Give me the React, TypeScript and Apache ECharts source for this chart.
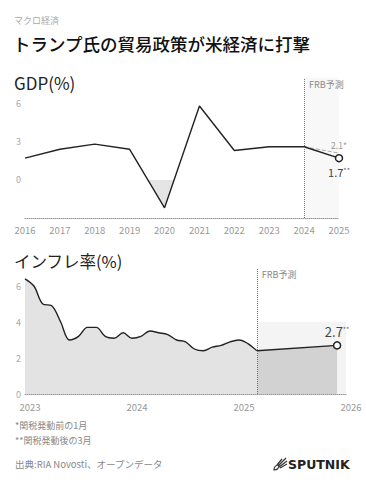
import React, { useEffect, useRef } from "react";
import * as echarts from "echarts";

// ---- GDP (annual, %) ----
const gdpYears = ["2016", "2017", "2018", "2019", "2020", "2021", "2022", "2023", "2024", "2025"];
const gdpActual = [1.7, 2.4, 2.8, 2.4, -2.2, 5.8, 2.3, 2.6, 2.6, 1.7];
const gdpPrevForecast: (number | null)[] = [null, null, null, null, null, null, null, null, 2.6, 2.1];
const gdpForecastFrom = "2024";

// ---- Inflation (monthly CPI, %) ----
const cpiYears = ["2023", "2024", "2025"];
const cpiAxisEnd = "2026-01";
const cpiActual = [
  6.4, 6.0, 5.0, 4.9, 4.0, 3.0, 3.2, 3.7, 3.7, 3.2, 3.1, 3.4,
  3.1, 3.2, 3.5, 3.4, 3.3, 3.0, 2.9, 2.5, 2.4, 2.6, 2.7, 2.9,
  3.0, 2.8, 2.4,
];
const cpiForecastFrom = "2025-03";
const cpiForecastFromValue = 2.4;
const cpiForecastTo = "2025-12";
const cpiForecastToValue = 2.7;

const FONT = "'Noto Sans CJK JP', 'Noto Sans', sans-serif";

export default function App() {
  const ref = useRef<HTMLDivElement>(null);

  useEffect(() => {
    if (!ref.current) return;
    echarts.graphic.registerShape(
      "sputnikIcon",
      echarts.graphic.extendPath(
        "M1 13 C1 10 3 8 6 8 C6 11 4 13 1 13 Z M5 9 L13 1 M6 10 L14 4 M7 11 L14 7 M4 8 L9 2",
        {}
      ) as any
    );

    const months: string[] = [];
    cpiYears.forEach((y) => {
      for (let m = 1; m <= 12; m++) months.push(`${y}-${m < 10 ? "0" + m : m}`);
    });
    months.push(cpiAxisEnd);

    const cpiActualData = months.map((_, i) => (i < cpiActual.length ? cpiActual[i] : null));
    const cpiForecastData = months.map((m) =>
      m === cpiForecastFrom ? cpiForecastFromValue : m === cpiForecastTo ? cpiForecastToValue : null
    );

    const lastG = gdpActual.length - 1;
    const gdpData = gdpActual.map((v, i) =>
      i === lastG
        ? {
            value: v,
            symbol: "circle",
            symbolSize: 7,
            itemStyle: { color: "#fff", borderColor: "#222", borderWidth: 1.5 },
            label: {
              show: true,
              position: "bottom",
              distance: 4,
              formatter: "{a|" + v + "}{b|**}",
              rich: {
                a: { fontSize: 11, color: "#444", fontFamily: FONT },
                b: { fontSize: 7, color: "#666", fontFamily: FONT, verticalAlign: "top" },
              },
            },
          }
        : v
    );
    const gdpPrevData = gdpPrevForecast.map((v, i) =>
      i === lastG && v != null
        ? {
            value: v,
            symbol: "circle",
            symbolSize: 2,
            itemStyle: { color: "rgba(0,0,0,0)", borderWidth: 0 },
            label: {
              show: true,
              position: "top",
              distance: 3,
              formatter: v + "*",
              fontSize: 8.5,
              color: "#999",
              fontFamily: FONT,
            },
          }
        : v
    );

    const cpiFIdx = months.indexOf(cpiForecastTo);
    const cpiForecastItems = cpiForecastData.map((v, i) =>
      i === cpiFIdx
        ? {
            value: v,
            symbol: "circle",
            symbolSize: 7,
            itemStyle: { color: "#fff", borderColor: "#222", borderWidth: 1.5 },
            label: {
              show: true,
              position: "top",
              distance: 3,
              formatter: "{a|" + v + "}{b|**}",
              rich: {
                a: { fontSize: 13, color: "#444", fontFamily: FONT },
                b: { fontSize: 7, color: "#666", fontFamily: FONT, verticalAlign: "top" },
              },
            },
          }
        : v
    );

    const vLine = (x: string) => ({
      silent: true,
      symbol: "none",
      lineStyle: { type: "dotted", color: "#777", width: 1 },
      label: {
        show: true,
        position: "end",
        distance: 0,
        formatter: "FRB予測",
        align: "left",
        verticalAlign: "top",
        padding: [2, 0, 0, 5],
        fontSize: 9,
        color: "#888",
        fontFamily: FONT,
      },
      data: [{ xAxis: x }],
    });

    const gMax = Math.max(...gdpActual);
    const gMin = Math.min(...gdpActual);
    const zeroOff = gMax / (gMax - gMin);

    const chart = echarts.init(ref.current, null, { renderer: "svg" });
    chart.setOption({
      animation: false,
      backgroundColor: "#fff",
      textStyle: { fontFamily: FONT },
      grid: [
        { left: 25, right: 27, top: 78, height: 140 },
        { left: 25, right: 20, top: 268, height: 126 },
      ],
      xAxis: [
        {
          gridIndex: 0,
          type: "category",
          data: gdpYears,
          boundaryGap: false,
          axisLine: { onZero: false, lineStyle: { type: "dotted", color: "#999" } },
          axisTick: { show: false },
          axisLabel: { color: "#999", fontSize: 9.5, margin: 7, interval: 0 },
        },
        {
          gridIndex: 1,
          type: "category",
          data: months,
          boundaryGap: false,
          axisLine: { onZero: false, lineStyle: { type: "dotted", color: "#999" } },
          axisTick: { show: false },
          axisLabel: {
            color: "#999",
            fontSize: 9.5,
            margin: 8,
            padding: [0, 0, 0, 10],
            interval: (_i: number, v: string) => v.endsWith("-01"),
            formatter: (v: string) => v.slice(0, 4),
          },
        },
      ],
      yAxis: [
        {
          gridIndex: 0,
          type: "value",
          min: -3,
          max: 8,
          interval: 3,
          axisLine: { show: false },
          axisTick: { show: false },
          splitLine: { show: false },
          axisLabel: { color: "#aaa", fontSize: 9, margin: 4, showMaxLabel: false, showMinLabel: false },
        },
        {
          gridIndex: 1,
          type: "value",
          min: 0,
          max: 7,
          interval: 2,
          axisLine: { show: false },
          axisTick: { show: false },
          splitLine: { show: false },
          axisLabel: { color: "#aaa", fontSize: 9, margin: 4, showMaxLabel: false },
        },
      ],
      series: [
        {
          type: "line",
          xAxisIndex: 0,
          yAxisIndex: 0,
          data: gdpPrevData,
          symbol: "none",
          showSymbol: true,
          showAllSymbol: true,
          connectNulls: true,
          lineStyle: { type: "dashed", color: "#aaa", width: 1 },
          z: 2,
        },
        {
          type: "line",
          xAxisIndex: 0,
          yAxisIndex: 0,
          data: gdpData,
          symbol: "none",
          showSymbol: true,
          showAllSymbol: true,
          lineStyle: { color: "#222", width: 1.4 },
          areaStyle: {
            origin: 0,
            color: new echarts.graphic.LinearGradient(0, 0, 0, 1, [
              { offset: 0, color: "rgba(0,0,0,0)" },
              { offset: zeroOff, color: "rgba(0,0,0,0)" },
              { offset: zeroOff + 0.001, color: "#d9d9d9" },
              { offset: 1, color: "#d9d9d9" },
            ]),
          },
          markLine: vLine(gdpForecastFrom),
          markArea: {
            silent: true,
            itemStyle: { color: "#f8f8f8" },
            data: [[{ xAxis: gdpForecastFrom }, { xAxis: gdpYears[gdpYears.length - 1] }]],
          },
          z: 3,
        },
        {
          type: "line",
          xAxisIndex: 1,
          yAxisIndex: 1,
          data: cpiActualData,
          symbol: "none",
          smooth: 0.35,
          lineStyle: { color: "#222", width: 1.4 },
          areaStyle: { color: "#e3e3e3", opacity: 1 },
          markLine: vLine(cpiForecastFrom),
          markArea: {
            silent: true,
            itemStyle: { color: "#f4f4f4" },
            data: [[{ xAxis: cpiForecastFrom, yAxis: 0 }, { xAxis: cpiAxisEnd, yAxis: 4 }]],
          },
          z: 3,
        },
        {
          type: "line",
          xAxisIndex: 1,
          yAxisIndex: 1,
          data: cpiForecastItems,
          symbol: "none",
          showSymbol: true,
          showAllSymbol: true,
          connectNulls: true,
          lineStyle: { color: "#222", width: 1.4 },
          areaStyle: { color: "#d2d2d2", opacity: 1 },
          z: 4,
        },
      ],
      graphic: [
        { type: "text", left: 14, top: 16, style: { text: "マクロ経済", fontSize: 9, fill: "#aaa", fontFamily: FONT } },
        {
          type: "text",
          left: 13,
          top: 35,
          style: { text: "トランプ氏の貿易政策が米経済に打撃", fontSize: 17.5, fontWeight: 500, fill: "#111", fontFamily: FONT },
        },
        { type: "text", left: 14, top: 74, style: { text: "GDP(%)", fontSize: 17, fill: "#222", fontFamily: FONT } },
        { type: "text", left: 14, top: 253, style: { text: "インフレ率(%)", fontSize: 16.5, fill: "#222", fontFamily: FONT } },
        { type: "text", left: 15, top: 421, style: { text: "*関税発動前の1月", fontSize: 9, fill: "#888", fontFamily: FONT } },
        { type: "text", left: 15, top: 436, style: { text: "**関税発動後の3月", fontSize: 9, fill: "#888", fontFamily: FONT } },
        {
          type: "text",
          left: 15,
          top: 459,
          style: { text: "出典:RIA Novosti、オープンデータ", fontSize: 9.5, fill: "#888", fontFamily: FONT },
        },
        {
          type: "sputnikIcon",
          x: 273,
          y: 457,
          style: { fill: "none", stroke: "#333", lineWidth: 1.2 },
        },
        {
          type: "text",
          left: 288,
          top: 458,
          style: { text: "SPUTNIK", fontSize: 12.5, fontWeight: "bold", fill: "#222", fontFamily: "'DejaVu Sans', sans-serif" },
        },
      ],
    });
    return () => chart.dispose();
  }, []);

  return (
    <div
      ref={ref}
      style={{ position: "fixed", left: 0, top: 0, width: 366, height: 484, background: "#fff" }}
    />
  );
}
